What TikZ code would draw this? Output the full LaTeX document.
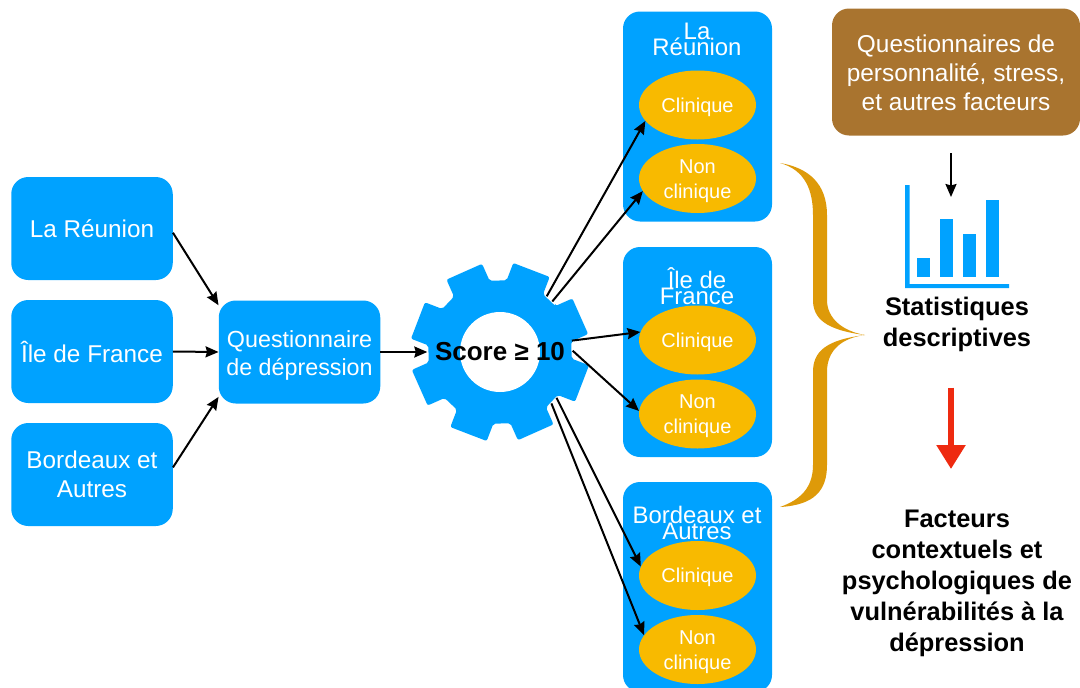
\documentclass[tikz,border=0pt]{standalone}
\usepackage{fontspec}
\setmainfont{Liberation Sans}
\usetikzlibrary{arrows.meta,shapes.geometric}
\definecolor{boxblue}{HTML}{00A2FF}
\definecolor{ovalyellow}{HTML}{F8BA00}
\definecolor{cardbrown}{HTML}{A9742F}
\definecolor{bracegold}{HTML}{DE9A09}
\definecolor{downred}{HTML}{EE2A10}
\begin{document}
\begin{tikzpicture}
        [x=1pt,y=-1pt,
        boxdecorate/.style={shape=rectangle,rounded corners=17pt,fill=boxblue,text=white,inner sep=0pt,
          minimum width=161.5pt,minimum height=103pt,align=center,font=\fontsize{24.3}{28.5}\selectfont},
        paneldecorate/.style={shape=rectangle,rounded corners=17pt,fill=boxblue,inner sep=0pt,
          minimum width=149pt,minimum height=210pt},
        titledecorate/.style={text=white,inner sep=0pt,align=center,
          font={\fontsize{23.9}{15.5}\selectfont\lineskiplimit -20pt\relax}},
        ovaldecorate/.style={shape=ellipse,fill=ovalyellow,text=white,inner sep=0pt,
          minimum width=117pt,minimum height=69pt,align=center,font=\fontsize{20}{25}\selectfont},
        bolddecorate/.style={inner sep=0pt,align=center,font=\fontsize{25.4}{31}\selectfont\bfseries},
        arrowdecorate/.style={->,>={Stealth[length=13pt,width=11pt,inset=1.5pt]},line width=2pt}]
        \useasboundingbox (0,0) rectangle (1080,688);
        %% left boxes
        \foreach \nodename/\y/\boxtext in {reunion/228.5/{La Réunion},
          france/351.5/{Île de France}, bordeaux/474.5/{Bordeaux et\\Autres}}
        {
          \node (\nodename) at (92,\y) [boxdecorate] {\boxtext};
        }
        \node (questionnaire) at (299.5,352) [boxdecorate,font=\fontsize{23.3}{28.5}\selectfont]
          {\rule{0pt}{24pt}Questionnaire\\de dépression};
        %% right panels and their ovals
        \foreach \panelname/\y/\titley/\paneltext in {a/116.5/39.5/{La\\Réunion},
          b/352/286/{Île de\\France}, c/587/523/{Bordeaux et\\Autres}}
        {
          \node (panel\panelname) at (697.5,\y) [paneldecorate] {};
          \node (title\panelname) at (697,\titley) [titledecorate] {\paneltext};
        }
        \foreach \nodename/\y/\ovaltext in {clina/105/Clinique, nona/178.5/{Non\\clinique},
          clinb/340/Clinique, nonb/414/{Non\\clinique}, clinc/575.5/Clinique, nonc/649.5/{Non\\clinique}}
        {
          \node (\nodename) at (697.5,\y) [ovaldecorate] {\rule{0pt}{19pt}\ovaltext};
        }
        %% gear
        \begin{scope}[shift={(500,352)}]
          \fill[boxblue,rounded corners=2pt] (-39.7:72)
          \foreach \toothangle in {-24,21,66,111,156,201,246,291}
          {
            -- ({\toothangle-15.7}:72) -- ({\toothangle-12.5}:90) -- ({\toothangle+12.5}:90) -- ({\toothangle+15.7}:72)
          } -- cycle;
          \fill[white] (0,0) circle (40);
        \end{scope}
        \node (gear) at (500,352) [shape=circle,minimum size=145pt,inner sep=0pt,
          font=\fontsize{26}{30}\selectfont\bfseries] {Score ≥ 10};
        %% brace
        \fill[bracegold] (780,163) .. controls (810,168) and (827,185) .. (827,215) -- (827,300)
          .. controls (827,318) and (842,331) .. (865,335)
          .. controls (842,338) and (827,350) .. (827,372) -- (827,465)
          .. controls (827,490) and (815,505) .. (780,507)
          .. controls (800,500) and (813,488) .. (813,465) -- (813,372)
          .. controls (813,352) and (825,340) .. (865,335)
          .. controls (825,330) and (813,318) .. (813,300) -- (813,215)
          .. controls (813,190) and (805,170) .. (780,163) -- cycle;
        %% right column
        \node (facteurs) at (956,72) [shape=rectangle,rounded corners=17pt,fill=cardbrown,text=white,inner sep=0pt,
          minimum width=248pt,minimum height=127pt,align=center,font=\fontsize{24.4}{29}\selectfont]
          {\rule{0pt}{20pt}Questionnaires de\\personnalité, stress,\\et autres facteurs};
        \fill[boxblue] (905,185) rectangle (909.5,288) (905,284) rectangle (1009,288);
        \foreach \x/\y in {917/257.5, 940/218.5, 963/233.5, 986/199.5}
        {
          \fill[boxblue] (\x,\y) rectangle ({\x+13},276.5);
        }
        \node (statistiques) at (957,324.5) [bolddecorate] {Statistiques\\descriptives};
        \node (vulnerabilites) at (957,583) [bolddecorate] {Facteurs\\contextuels et\\psychologiques de\\vulnérabilités à la\\dépression};
        \coordinate (charttop) at (951,153);
        \coordinate (chartin) at (951,197);
        \coordinate (redtop) at (951,387.5);
        \coordinate (redtip) at (951,469);
        %% edges or lines
        \path
        \foreach \startnode/\endnode in {reunion.-3/questionnaire.150, france.east/questionnaire.west,
          bordeaux.5/questionnaire.209, questionnaire.east/gear.west,
          gear.50/clina.197, gear.44/nona.193, gear.9/clinb.172, gear.1/nonb.177,
          gear.-39/clinc.171, gear.-45/nonc.165, charttop/chartin}
        {
          (\startnode) edge[arrowdecorate] (\endnode)
        };
        \draw[downred,line width=5.5pt,-{Triangle[length=24pt,width=28pt]}] (redtop) -- (redtip);
      \end{tikzpicture}
\end{document}
